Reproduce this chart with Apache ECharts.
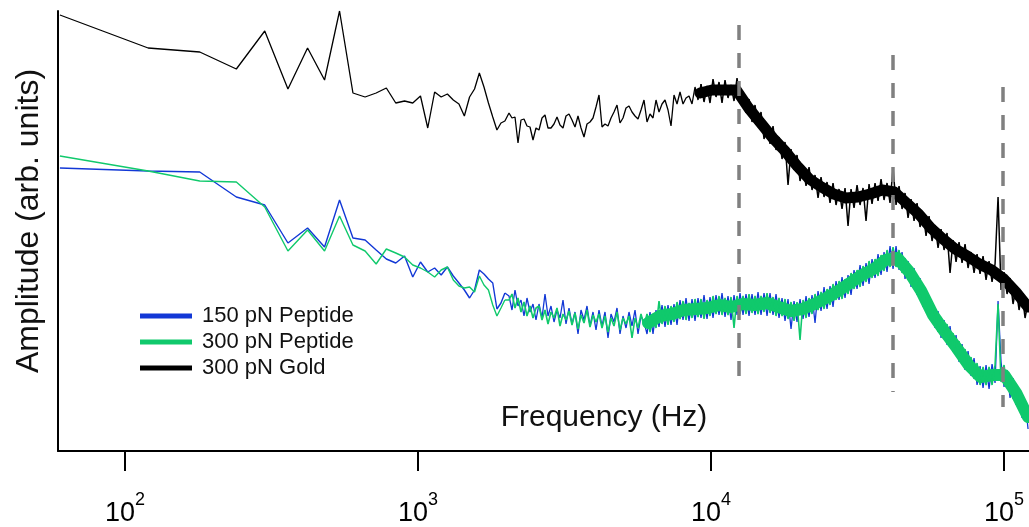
<!DOCTYPE html>
<html>
<head>
<meta charset="utf-8">
<title>Amplitude spectrum</title>
<script src="https://cdn.jsdelivr.net/npm/echarts@6/dist/echarts.min.js"></script>
<style>
  html, body { margin: 0; padding: 0; background: #fff; }
  #chart { width: 1029px; height: 527px; }
</style>
</head>
<body>
<div id="chart"></div>
<script>
// low end of the spectrum: one point per 60 Hz bin
var lowFreq = [60,120,180,240,300,360,420,480,540,600,660,720,780,840,900,960,1020,1080,1140,1200,
  1260,1320,1380,1440,1500,1560,1620,1680,1740,1800,1860,1920,1980];

var goldLow = [43.6,40.3,39.9,38.2,42.0,36.2,40.3,37.1,44.0,35.8,
  35.4,35.8,36.3,34.8,35.0,34.8,35.5,32.3,35.9,35.4,
  35.7,35.1,34.7,33.5,35.4,36.2,37.8,36.4,34.8,33.4,
  32.1,32.8,33.0];
var pep300Low = [29.5,28.0,27.0,26.9,24.4,20.0,22.1,20.0,23.5,20.6,
  20.0,18.7,20.2,19.8,19.4,18.6,18.3,17.9,17.4,18.1,
  18.4,17.1,16.5,16.3,16.4,15.9,17.5,16.6,16.1,14.6,
  13.5,14.3,15.1];
var pep150Low = [28.3,28.0,27.9,25.4,24.6,20.8,22.3,20.4,25.1,21.3,
  21.1,20.1,19.2,18.8,19.5,17.4,18.9,17.9,18.3,17.6,
  18.4,17.5,16.8,16.1,15.3,16.1,18.1,17.7,17.2,16.8,
  14.2,14.8,15.8];

var hiStart = 2045, hiEnd = 120800;

var goldHi = [33.8,33.3,33.4,30.8,33.1,33.2,32.5,32.4,31.1,32.3,
  32.1,33.3,33.6,32.3,32.3,32.7,33.4,32.6,32.3,33.5,
  33.7,33.1,32.4,33.5,32.3,31.4,32.7,32.9,33.3,34.4,
  35.6,32.4,32.7,32.5,33.3,33.9,34.6,32.8,33.3,34.3,
  34.5,33.9,33.5,33.2,34.1,35.1,32.9,33.7,33.3,35.1,
  33.9,34.7,35.1,34.1,32.5,35.6,34.7,35.9,34.7,35.3,
  35.5,34.7,36.4,35.1,36.7,34.9,36.5,34.8,37.2,35.4,
  36.9,34.8,37.1,35.3,36.6,35.0,37.3,34.8,35.9,33.8,
  35.2,32.9,34.6,32.4,33.9,31.2,32.7,30.7,32.5,30.1,
  31.4,29.2,30.9,26.6,30.2,28.1,29.6,27.0,28.5,26.5,
  28.4,26.1,27.6,25.3,27.4,25.4,26.9,24.8,26.8,24.6,
  26.2,24.2,26.3,22.5,26.2,24.3,26.6,24.6,26.3,23.0,
  26.7,24.7,26.8,25.0,27.2,25.1,26.8,24.8,28.3,24.6,
  26.5,24.2,25.8,23.3,25.2,23.0,24.8,22.4,23.8,21.5,
  23.5,21.0,22.6,20.3,22.2,20.1,21.8,17.8,21.1,18.9,
  20.9,18.8,20.7,18.3,19.9,17.8,19.7,17.7,19.5,17.1,
  19.0,16.9,18.7,25.4,16.1,17.9,15.7,17.3,14.7,16.4,
  14.1,15.8,13.3,14.9];

var pep300Hi = [15.1,15.7,14.3,15.3,13.9,14.9,13.5,14.5,13.3,14.3,
  14.5,13.1,14.1,12.7,13.9,13.3,14.3,12.5,13.7,13.1,
  14.0,12.6,13.8,12.2,13.6,12.8,14.1,12.4,13.6,12.9,
  13.7,12.3,13.5,11.9,13.3,12.5,13.9,12.1,13.3,12.7,
  13.5,11.3,13.3,12.3,13.7,12.5,13.7,11.9,13.7,12.3,
  15.0,12.7,14.5,12.6,14.5,12.9,14.9,13.2,15.0,13.1,
  14.8,13.3,15.2,13.4,15.2,13.2,15.1,13.5,15.5,13.7,
  15.5,13.6,15.3,13.6,15.4,12.3,15.5,13.7,15.5,13.7,
  15.7,13.8,15.5,13.7,15.5,13.9,15.8,13.8,15.4,13.5,
  15.3,13.5,15.2,13.2,14.9,13.0,14.9,11.1,15.1,13.3,
  15.3,13.7,15.7,14.1,15.9,14.2,16.2,14.6,16.7,15.1,
  17.0,15.2,17.2,15.7,17.8,16.2,18.1,16.4,18.5,16.9,
  19.0,17.3,19.2,17.5,19.6,18.0,20.1,18.4,20.4,18.4,
  20.1,17.8,19.3,17.1,18.5,16.3,17.5,15.2,16.5,14.1,
  15.4,13.0,14.2,11.9,13.4,11.2,12.7,10.5,11.8,9.5,
  11.0,8.8,10.2,8.0,9.4,7.2,8.8,6.6,8.4,6.6,
  8.4,6.6,8.6,14.7,6.9,8.6,6.3,7.5,5.2,6.7,
  4.3,5.4,3.0,4.0];

var pep150Hi = [15.5,14.1,16.1,14.5,15.1,13.5,15.3,13.9,14.7,13.1,
  14.7,13.3,15.7,13.5,14.5,12.9,14.1,13.3,15.1,12.7,
  14.3,12.7,13.9,11.7,14.1,13.1,14.5,12.5,13.9,12.1,
  14.1,12.5,13.9,11.3,13.7,12.9,14.3,11.7,13.5,12.3,
  13.9,12.5,14.1,11.7,13.5,12.9,11.7,13.9,11.7,14.1,
  12.4,14.6,12.4,14.6,12.6,14.7,12.6,15.1,13.1,15.3,
  13.0,15.2,13.0,15.3,13.3,15.6,13.2,15.4,13.3,15.6,
  13.6,15.8,13.4,15.5,13.1,15.6,13.6,15.8,13.6,15.7,
  13.5,15.7,13.6,15.9,13.6,15.8,13.5,15.8,13.6,15.7,
  13.3,15.3,13.0,15.2,12.2,15.0,12.9,15.2,13.2,15.5,
  13.4,15.6,12.8,16.0,14.0,16.4,14.2,16.5,14.4,17.0,
  15.1,17.4,15.3,17.6,15.6,18.1,16.2,18.6,16.5,18.8,
  16.7,19.2,17.3,19.7,17.6,19.9,17.9,20.5,18.2,20.5,
  18.1,19.9,17.2,19.0,16.4,18.3,15.6,17.3,14.4,16.0,
  13.3,15.0,12.3,14.0,11.3,13.1,10.6,12.5,9.9,11.6,
  8.9,10.7,8.1,10.0,7.5,9.3,6.6,8.5,6.3,8.6,
  6.2,8.7,6.8,15.0,8.9,6.4,8.1,5.3,7.3,4.6,
  6.2,3.3,5.1,2.2];

// where the bins pile up into a solid band: the band's middle, read at wider steps
var goldCoreStart = 9170;
var goldCore = [35.8,36.1,36.1,36.1,34.3,32.8,31.3,30.0,28.5,27.2,
  26.4,25.7,25.3,25.4,25.7,26.1,25.9,24.8,23.7,22.3,
  21.2,20.2,19.5,18.7,18.1,17.2,15.9,14.4];
var pep300CoreStart = 6100;
var pep300Core = [12.8,13.5,13.7,14.1,14.2,14.3,
  14.6,14.4,14.7,14.6,14.8,14.4,14.0,14.2,14.7,15.3,
  16.0,16.8,17.6,18.2,19.1,19.3,17.9,16.0,13.6,11.9,
  10.3,8.6,7.4,7.6,7.6,5.8,3.4];

// dashed resonance markers (Hz) and how far they run in amplitude
var markFreq = [12430, 41690, 98680];
var markTop = [42.6, 39.6, 36.4];
var markBottom = [7.5, 5.9, 4.4];

var tickValues = [100, 1000, 10000, 100000];
var tickExp = ['2', '3', '4', '5'];

var seriesNames = ['150 pN Peptide', '300 pN Peptide', '300 pN Gold'];
var seriesColors = ['#1238d6', '#10c96c', '#000'];
var FONT = "'Liberation Sans', Arial, sans-serif";

function logSpaced(f0, f1, vals) {
  var n = vals.length, pts = [];
  for (var j = 0; j < n; j++) pts.push([f0 * Math.pow(f1 / f0, j / (n - 1)), vals[j]]);
  return pts;
}

function toPoints(low, hi) {
  var pts = [];
  for (var i = 0; i < low.length; i++) pts.push([lowFreq[i], low[i]]);
  return pts.concat(logSpaced(hiStart, hiEnd, hi));
}

// the dense part of each trace is drawn a bit heavier, like the original
function traceSeries(k, pts, split, w1, w2) {
  var base = { name: seriesNames[k], type: 'line', showSymbol: false, symbol: 'none',
    itemStyle: { color: seriesColors[k] } };
  var a = Object.assign({}, base, { data: pts.slice(0, split + 1),
    lineStyle: { color: seriesColors[k], width: w1 } });
  var b = Object.assign({}, base, { data: pts.slice(split),
    lineStyle: { color: seriesColors[k], width: w2 } });
  return [a, b];
}

function coreSeries(k, pts, w) {
  return { name: seriesNames[k] + ' band', type: 'line', showSymbol: false, symbol: 'none',
    data: pts, itemStyle: { color: seriesColors[k] },
    lineStyle: { color: seriesColors[k], width: w, cap: 'round', join: 'round' } };
}

var markData = markFreq.map(function (f, k) {
  return [{ coord: [f, markTop[k]] }, { coord: [f, markBottom[k]] }];
});

var nLow = lowFreq.length;
var blue = traceSeries(0, toPoints(pep150Low, pep150Hi), nLow - 1, 1.4, 1.3);
var green = traceSeries(1, toPoints(pep300Low, pep300Hi), nLow - 1, 1.4, 1.6);
var gold = traceSeries(2, toPoints(goldLow, goldHi), nLow + 64, 1.3, 1.5);
gold[1].markLine = {
  silent: true,
  symbol: ['none', 'none'],
  label: { show: false },
  lineStyle: { color: '#808080', width: 3.5, type: [15, 13] },
  data: markData
};
var greenCore = coreSeries(1, logSpaced(pep300CoreStart, hiEnd, pep300Core), 12);
var goldCoreS = coreSeries(2, logSpaced(goldCoreStart, hiEnd, goldCore), 11);

var chart = echarts.init(document.getElementById('chart'));
var option = {
  animation: false,
  backgroundColor: '#fff',
  grid: { left: 58, right: 0, top: 11, bottom: 76, containLabel: false },
  legend: {
    data: seriesNames,
    orient: 'vertical',
    left: 140,
    top: 305,
    padding: 0,
    icon: 'rect',
    itemWidth: 52,
    itemHeight: 5,
    itemGap: 4,
    selectedMode: false,
    textStyle: { fontFamily: FONT, fontSize: 22, color: '#111', padding: [0, 0, 0, 5] }
  },
  xAxis: {
    type: 'log',
    logBase: 10,
    min: 59.1,
    max: 121700,
    axisLine: { show: true, onZero: false, lineStyle: { color: '#000', width: 2 } },
    axisTick: { show: true, customValues: tickValues, length: 20, lineStyle: { color: '#000', width: 2 } },
    axisLabel: {
      customValues: tickValues,
      margin: 49,
      color: '#000',
      formatter: function (v) {
        var k = Math.round(Math.log(v) / Math.LN10) - 2;
        return '{b|10}{s|' + tickExp[k] + '}';
      },
      rich: {
        b: { fontFamily: FONT, fontSize: 27, lineHeight: 27, verticalAlign: 'bottom', color: '#000' },
        s: { fontFamily: FONT, fontSize: 18, lineHeight: 18, verticalAlign: 'bottom', padding: [0, 0, 18, 0], color: '#000' }
      }
    },
    splitLine: { show: false },
    minorTick: { show: false }
  },
  yAxis: {
    type: 'value',
    min: 0,
    max: 44,
    axisLine: { show: true, onZero: false, lineStyle: { color: '#000', width: 2 } },
    axisTick: { show: false },
    axisLabel: { show: false },
    splitLine: { show: false }
  },
  graphic: [
    {
      type: 'text', x: 604, y: 418,
      style: { text: 'Frequency (Hz)', font: '30px ' + FONT, fill: '#111', align: 'center', verticalAlign: 'middle' }
    },
    {
      type: 'text', x: 29, y: 221, rotation: Math.PI / 2,
      style: { text: 'Amplitude (arb. units)', font: '32px ' + FONT, fill: '#111', align: 'center', verticalAlign: 'middle' }
    }
  ],
  series: blue.concat([greenCore], green, [goldCoreS], gold)
};
chart.setOption(option);
</script>
</body>
</html>
